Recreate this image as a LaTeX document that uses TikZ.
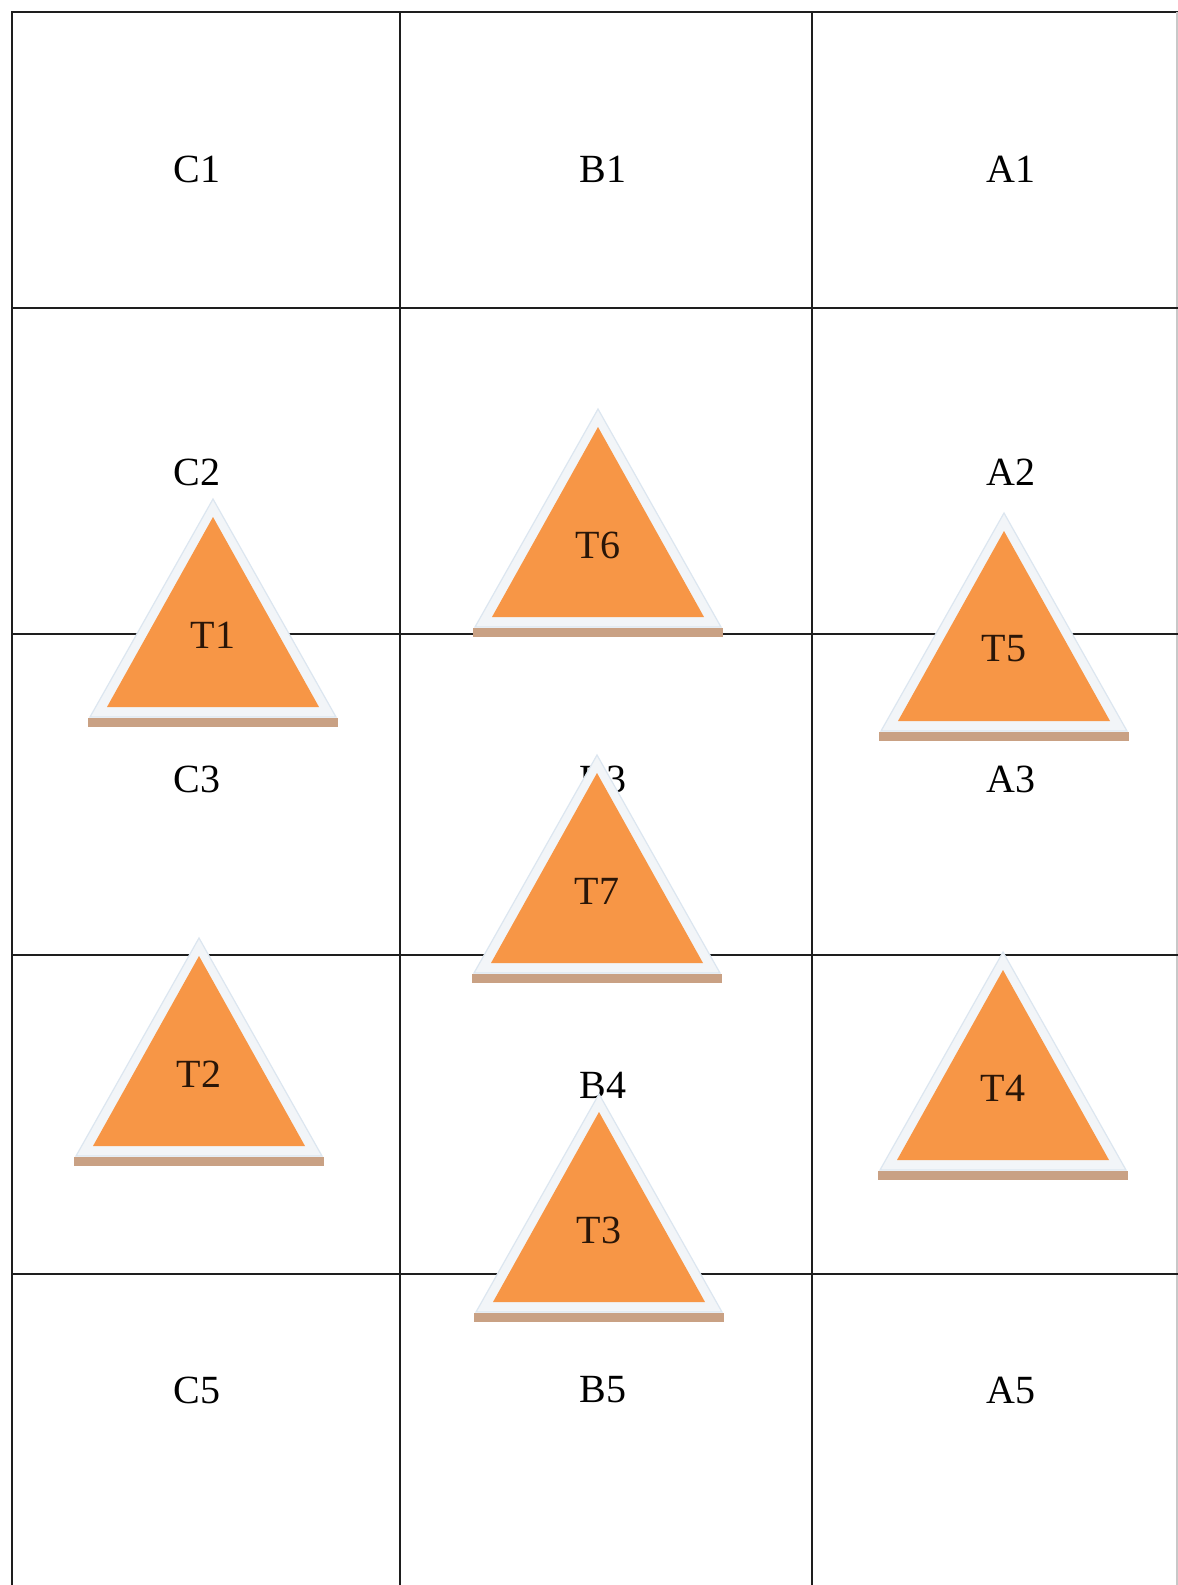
\documentclass[tikz,border=0pt]{standalone}
\usepackage{fontspec}
\setmainfont{Liberation Serif}
\definecolor{gridblack}{HTML}{1E1E1E}
\definecolor{edgegray}{HTML}{C8C8C8}
\definecolor{markorange}{HTML}{F79646}
\definecolor{rimwhite}{HTML}{F2F5F8}
\definecolor{rimblue}{HTML}{DCE6F0}
\definecolor{shadowtan}{HTML}{C9A184}
\definecolor{labeldark}{HTML}{2A1608}
\tikzset{
  gridline/.style={draw=gridblack, line width=1pt},
  celltext/.style={font=\fontsize{20}{24}\selectfont, text=black, inner sep=0pt},
  marktext/.style={font=\fontsize{20}{24}\selectfont, text=labeldark, inner sep=0pt},
  marker/.pic={
    \fill[rimwhite, draw=rimblue, line width=0.6pt] (-123,10) -- (0,-208) -- (123,10) -- cycle;
    \fill[shadowtan] (-125,11) rectangle (125,20);
    \fill[markorange] (-106,0) -- (0,-190) -- (106,0) -- cycle;
    \node[marktext] (-lbl) at (0,-72) {#1};
  }
}

\begin{document}
\begin{tikzpicture}[x=0.5pt, y=-0.5pt]

\useasboundingbox[fill=white] (0,0) rectangle (1178,1585);

% Table
\draw[gridline] (1178,12) -- (12,12) -- (12,1585);
\draw[gridline] (400,12) -- (400,1585);
\draw[gridline] (812,12) -- (812,1585);
\draw[draw=edgegray, line width=0.6pt] (1177,12) -- (1177,1585);
\draw[gridline] (12,308) -- (1178,308);
\draw[gridline] (12,634) -- (1178,634);
\draw[gridline] (12,955) -- (1178,955);
\draw[gridline] (12,1274) -- (1178,1274);

% Cell names
\node[celltext] (c1) at (197,169) {C1};
\node[celltext] (b1) at (603,169) {B1};
\node[celltext] (a1) at (1011,169) {A1};
\node[celltext] (c2) at (197,472) {C2};
\node[celltext] (a2) at (1011,472) {A2};
\node[celltext] (c3) at (197,779) {C3};
\node[celltext] (b3) at (603,779) {B3};
\node[celltext] (a3) at (1011,779) {A3};
\node[celltext] (b4) at (603,1085) {B4};
\node[celltext] (c5) at (197,1390) {C5};
\node[celltext] (b5) at (603,1390) {B5};
\node[celltext] (a5) at (1011,1390) {A5};

% Markers
\pic (t1) at (213,707) {marker=T1};
\pic (t2) at (199,1146) {marker=T2};
\pic (t3) at (599,1302) {marker=T3};
\pic (t4) at (1003,1160) {marker=T4};
\pic (t5) at (1004,721) {marker=T5};
\pic (t6) at (598,617) {marker=T6};
\pic (t7) at (597,963) {marker=T7};

\end{tikzpicture}
\end{document}
